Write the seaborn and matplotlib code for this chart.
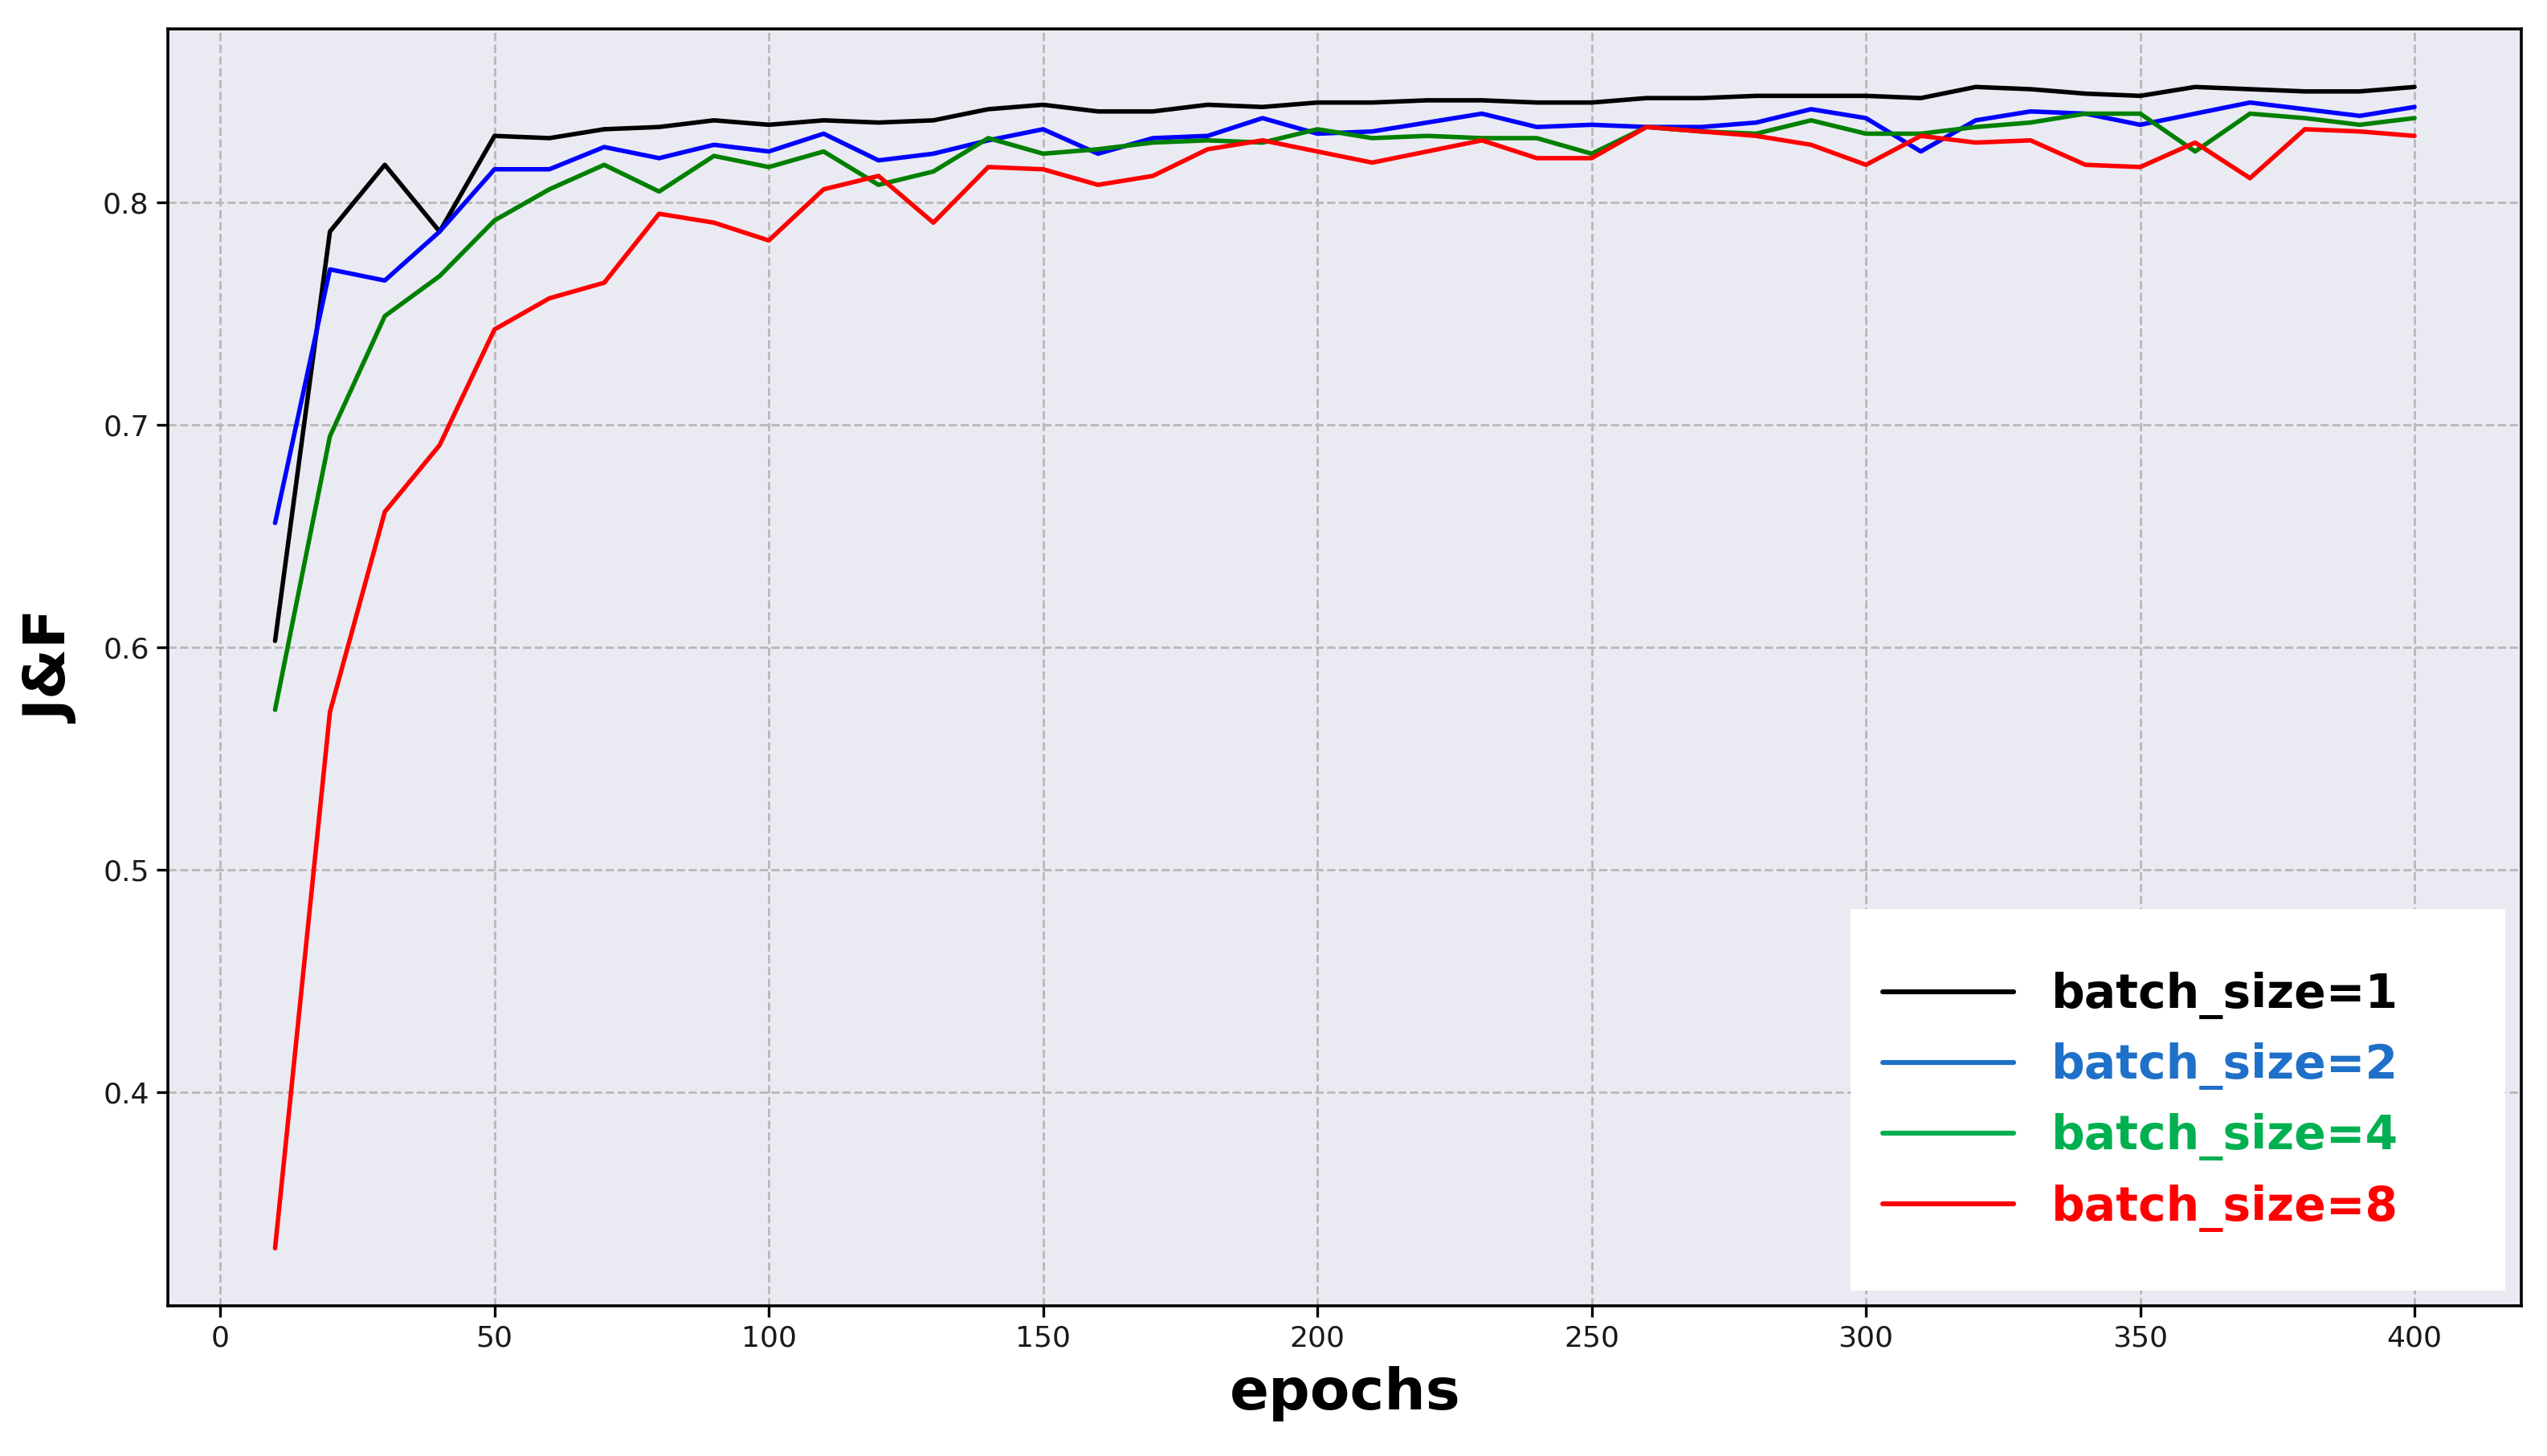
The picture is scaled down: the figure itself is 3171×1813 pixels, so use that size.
import matplotlib
matplotlib.use("Agg")
import matplotlib.pyplot as plt
import numpy as np
import pandas as pd
import seaborn as sns
from matplotlib.lines import Line2D
from matplotlib.patches import Rectangle

epochs = list(range(10, 401, 10))

bs1 = [0.603, 0.787, 0.817, 0.787, 0.830, 0.829, 0.833, 0.834, 0.837, 0.835,
       0.837, 0.836, 0.837, 0.842, 0.844, 0.841, 0.841, 0.844, 0.843, 0.845,
       0.845, 0.846, 0.846, 0.845, 0.845, 0.847, 0.847, 0.848, 0.848, 0.848,
       0.847, 0.852, 0.851, 0.849, 0.848, 0.852, 0.851, 0.850, 0.850, 0.852]
bs2 = [0.656, 0.770, 0.765, 0.787, 0.815, 0.815, 0.825, 0.820, 0.826, 0.823,
       0.831, 0.819, 0.822, 0.828, 0.833, 0.822, 0.829, 0.830, 0.838, 0.831,
       0.832, 0.836, 0.840, 0.834, 0.835, 0.834, 0.834, 0.836, 0.842, 0.838,
       0.823, 0.837, 0.841, 0.840, 0.835, 0.840, 0.845, 0.842, 0.839, 0.843]
bs4 = [0.572, 0.695, 0.749, 0.767, 0.792, 0.806, 0.817, 0.805, 0.821, 0.816,
       0.823, 0.808, 0.814, 0.829, 0.822, 0.824, 0.827, 0.828, 0.827, 0.833,
       0.829, 0.830, 0.829, 0.829, 0.822, 0.834, 0.832, 0.831, 0.837, 0.831,
       0.831, 0.834, 0.836, 0.840, 0.840, 0.823, 0.840, 0.838, 0.835, 0.838]
bs8 = [0.330, 0.571, 0.661, 0.691, 0.743, 0.757, 0.764, 0.795, 0.791, 0.783,
       0.806, 0.812, 0.791, 0.816, 0.815, 0.808, 0.812, 0.824, 0.828, 0.823,
       0.818, 0.823, 0.828, 0.820, 0.820, 0.834, 0.832, 0.830, 0.826, 0.817,
       0.830, 0.827, 0.828, 0.817, 0.816, 0.827, 0.811, 0.833, 0.832, 0.830]

labels = ["batch_size=1", "batch_size=2", "batch_size=4", "batch_size=8"]
line_colors = ["black", "#0000ff", "#008000", "#ff0000"]
legend_colors = ["black", "#1f70c8", "#00b050", "#ff0000"]

frames = []
for lab, vals in zip(labels, [bs1, bs2, bs4, bs8]):
    frames.append(pd.DataFrame({"epochs": epochs, "J&F": vals, "run": lab}))
df = pd.concat(frames, ignore_index=True)

sns.set_theme(style="darkgrid")
plt.rcParams["font.family"] = ["DejaVu Sans"]

fig = plt.figure(figsize=(15.855, 9.065), dpi=200)
ax = fig.add_axes([0.066, 0.103, 0.924, 0.877])

sns.lineplot(
    data=df, x="epochs", y="J&F", hue="run",
    palette=dict(zip(labels, line_colors)),
    linewidth=2.0, legend=False, errorbar=None, ax=ax,
)

ax.set_facecolor("#eaeaf2")
ax.grid(True, linestyle="--", color="#b8b8b8", linewidth=1.0)
for sp in ax.spines.values():
    sp.set_visible(True)
    sp.set_color("black")
    sp.set_linewidth(1.3)

ax.set_xticks(range(0, 401, 50))
ax.set_yticks([0.4, 0.5, 0.6, 0.7, 0.8])
ax.tick_params(axis="both", which="major", direction="out", length=5,
               width=1.2, color="black", labelsize=13, labelcolor="#1a1a1a",
               bottom=True, left=True)
ax.set_xlim(-9.5, 419.5)
ax.set_ylim(0.304, 0.878)

ax.set_xlabel("epochs", fontsize=26, fontweight="bold", color="black", labelpad=6)
ax.set_ylabel("J&F", fontsize=26, fontweight="bold", color="black", labelpad=10)

# white legend panel
ax.add_patch(Rectangle((0.715, 0.012), 0.278, 0.299, transform=ax.transAxes,
                       facecolor="white", edgecolor="none", zorder=4))

handles = [Line2D([], [], color=c, linewidth=2.2) for c in legend_colors]
leg = ax.legend(handles, labels, loc="center", bbox_to_anchor=(0.838, 0.16),
                frameon=False, prop={"size": 21, "weight": "bold"},
                handlelength=2.8, handletextpad=0.8, labelspacing=0.5)
leg.set_zorder(5)
for txt, c in zip(leg.get_texts(), legend_colors):
    txt.set_color(c)

fig.savefig("out.png", dpi=200)
